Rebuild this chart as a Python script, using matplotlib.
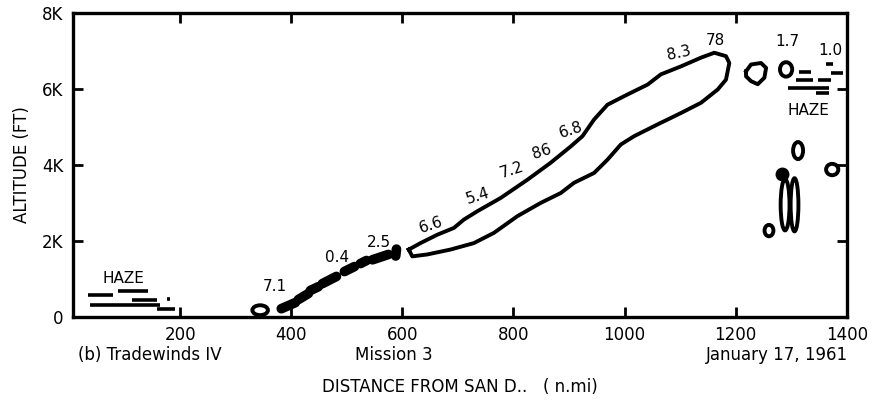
import matplotlib
matplotlib.use("Agg")
import matplotlib.pyplot as plt
from matplotlib.patches import Ellipse

# ---- data (x: distance n.mi, y: altitude in thousands of ft) ----
cloud_x = [611.6, 632.7, 662.8, 692.8, 710.8, 735.0, 777.0, 825.1, 867.1, 903.2,
           924.3, 945.2, 969.3, 1005.4, 1041.5, 1065.4, 1101.5, 1137.6, 1161.6,
           1182.6, 1188.6, 1182.6, 1167.7, 1137.6, 1101.5, 1059.5, 1017.3, 993.3,
           969.3, 945.2, 909.1, 885.1, 849.1, 807.1, 764.9, 728.8, 686.8, 644.8,
           617.8, 611.6]
cloud_y = [1.77, 1.94, 2.16, 2.34, 2.56, 2.78, 3.13, 3.61, 4.06, 4.49,
           4.76, 5.20, 5.59, 5.86, 6.12, 6.39, 6.60, 6.83, 6.96,
           6.87, 6.69, 6.25, 5.99, 5.64, 5.37, 5.07, 4.76, 4.54,
           4.14, 3.79, 3.53, 3.26, 3.00, 2.65, 2.21, 1.94, 1.77, 1.64,
           1.59, 1.77]

# small filled cloud elements (start/end points)
blob_x0 = [382.1, 412.8, 434.4, 456.0, 495.7, 524.5, 546.2, 588.0]
blob_y0 = [0.21, 0.45, 0.69, 0.87, 1.19, 1.40, 1.50, 1.60]
blob_x1 = [407.3, 430.8, 448.8, 481.3, 513.7, 535.4, 575.0, 589.4]
blob_y1 = [0.37, 0.61, 0.79, 1.06, 1.32, 1.48, 1.64, 1.78]

# small open cloud loops
loop_x = [344.0, 1290.8, 1312.4, 1373.8, 1289.0, 1306.0, 1260.0]
loop_y = [0.17, 6.52, 4.38, 3.88, 2.95, 2.95, 2.27]
loop_w = [28.0, 22.0, 18.0, 22.0, 16.0, 14.0, 16.0]
loop_h = [0.26, 0.38, 0.45, 0.30, 1.35, 1.40, 0.30]

# filled small blob
dot_x = [1283.6]
dot_y = [3.77]

# irregular loop near 1240
lump_x = [1218.7, 1227.7, 1245.7, 1254.8, 1251.7, 1239.8, 1227.7, 1218.7, 1218.7]
lump_y = [6.47, 6.65, 6.69, 6.56, 6.30, 6.13, 6.21, 6.34, 6.47]

# haze layers (dash segments)
haze_x0 = [88.2, 34.1, 113.5, 176.6, 37.7, 158.5,
           1363.0, 1314.0, 1372.0, 1309.0, 1349.0, 1294.0, 1345.0]
haze_x1 = [142.3, 79.2, 158.5, 182.0, 163.9, 191.0,
           1376.0, 1336.0, 1394.0, 1340.0, 1372.0, 1368.0, 1368.0]
haze_y = [0.67, 0.58, 0.45, 0.47, 0.32, 0.20,
          6.65, 6.45, 6.43, 6.23, 6.23, 6.03, 5.91]

# value labels
label_text = ["7.1", "0.4", "2.5", "6.6", "5.4", "7.2", "86", "6.8", "8.3", "78", "1.7", "1.0",
              "HAZE", "HAZE"]
label_x = [369.5, 483.0, 557.0, 652.6, 735.5, 796.8, 850.9, 903.2, 1097.9, 1162.8, 1292.6, 1370.0,
           97.2, 1330.5]
label_y = [0.80, 1.56, 1.95, 2.43, 3.17, 3.88, 4.35, 4.93, 6.94, 7.28, 7.26, 7.02,
           1.00, 5.44]
label_rot = [0, 0, 0, 18, 18, 18, 18, 18, 12, 0, 0, 0, 0, 0]

xticks = [200, 400, 600, 800, 1000, 1200, 1400]
yticks = [0, 2, 4, 6, 8]
yticklabels = ["0", "2K", "4K", "6K", "8K"]

# ---- figure ----
fig = plt.figure(figsize=(8.79, 4.07), dpi=100)
ax = fig.add_axes([0.083, 0.222, 0.8803, 0.7453])
ax.set_xlim(7, 1400)
ax.set_ylim(0, 8)

lw = 2.8
ax.plot(cloud_x, cloud_y, color="black", lw=lw, solid_joinstyle="round")
ax.plot(lump_x, lump_y, color="black", lw=lw, solid_joinstyle="round")
for x0, y0, x1, y1 in zip(blob_x0, blob_y0, blob_x1, blob_y1):
    ax.plot([x0, x1], [y0, y1], color="black", lw=7, solid_capstyle="round")
for x, y, w, h in zip(loop_x, loop_y, loop_w, loop_h):
    ax.add_patch(Ellipse((x, y), w, h, fill=False, ec="black", lw=lw))
ax.plot(dot_x, dot_y, "o", color="black", ms=9)
for x0, x1, y in zip(haze_x0, haze_x1, haze_y):
    ax.plot([x0, x1], [y, y], color="black", lw=2.6, solid_capstyle="butt")

for t, x, y, r in zip(label_text, label_x, label_y, label_rot):
    ax.text(x, y, t, ha="center", va="center", fontsize=11, rotation=r,
            family="DejaVu Sans", fontweight="medium")

ax.set_xticks(xticks)
ax.set_xticklabels([str(v) for v in xticks])
ax.set_yticks(yticks)
ax.set_yticklabels(yticklabels)
ax.tick_params(direction="in", length=7, width=2, labelsize=12, pad=7,
               top=True, right=True)
for s in ax.spines.values():
    s.set_linewidth(2.4)

ax.set_ylabel("ALTITUDE (FT)", fontsize=12, labelpad=8)

fig.text(78 / 879, 1 - 355 / 407, "(b) Tradewinds IV", ha="left", va="center", fontsize=12)
fig.text(394 / 879, 1 - 355 / 407, "Mission 3", ha="center", va="center", fontsize=12)
fig.text(848 / 879, 1 - 355 / 407, "January 17, 1961", ha="right", va="center", fontsize=12)
fig.text(460 / 879, 1 - 387 / 407, "DISTANCE FROM SAN D..   ( n.mi)", ha="center", va="center",
         fontsize=12)

fig.savefig("out.png", dpi=100)
